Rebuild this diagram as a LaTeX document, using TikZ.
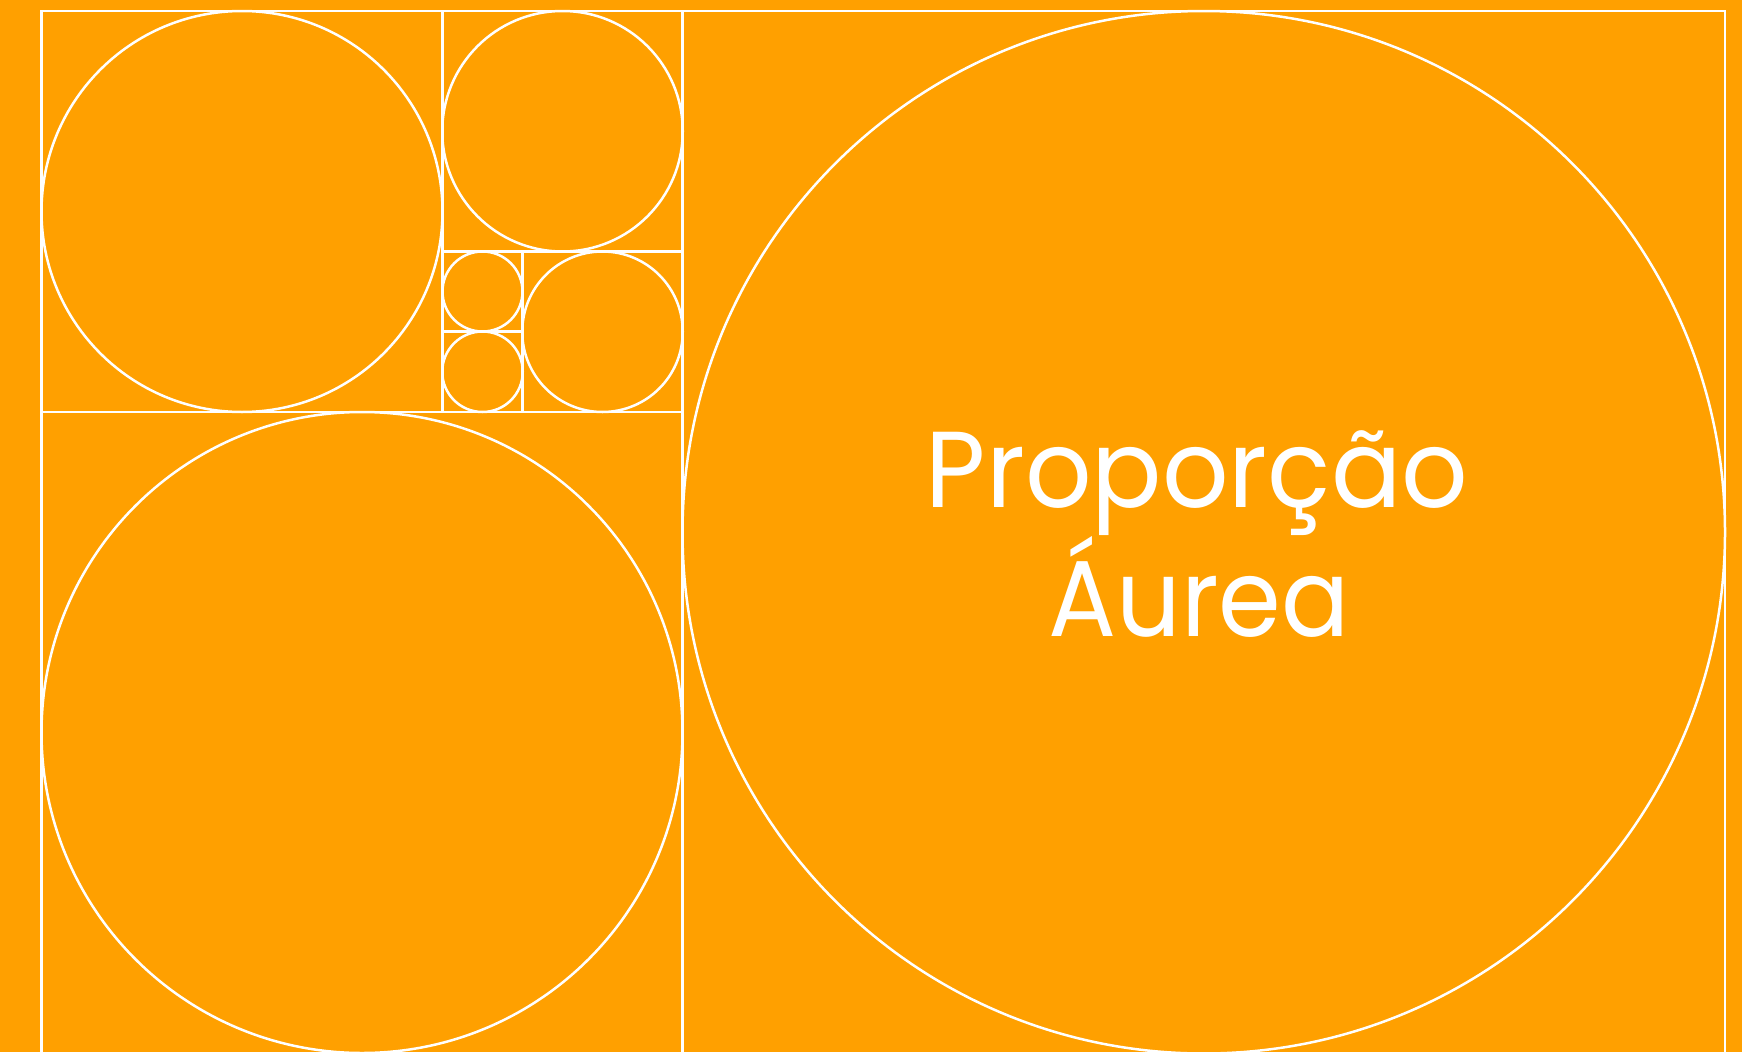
\documentclass[tikz,border=0pt]{standalone}
\usepackage{fontspec}
\newfontfamily\popfont{Poppins}
\definecolor{bgorange}{RGB}{255,160,0}
\begin{document}
\begin{tikzpicture}[x=1pt,y=-1pt,
  gline/.style={draw=white,line width=2.5pt},
  titletext/.style={text=white,inner sep=0pt,font=\popfont\fontsize{108}{108}\selectfont}]
\useasboundingbox (0,0) rectangle (1742,1052);
\fill[bgorange] (0,0) rectangle (1742,1052);
\begin{scope}
\clip (0,0) rectangle (1742,1052);
% frame lines
\draw[gline] (41.5,1060) -- (41.5,11) -- (1725,11) -- (1725,1060);
\draw[gline] (442.5,11) -- (442.5,412);
\draw[gline] (682.5,11) -- (682.5,1060);
\draw[gline] (41.5,412) -- (682.5,412);
\draw[gline] (442.5,251.5) -- (682.5,251.5);
\draw[gline] (522.5,251.5) -- (522.5,412);
\draw[gline] (442.5,331.5) -- (522.5,331.5);
% circles
\draw[gline] (242,211.5) circle[radius=200.5pt];
\draw[gline] (562.5,131.25) circle[radius=120.25pt];
\draw[gline] (482.5,291.5) circle[radius=40pt];
\draw[gline] (482.5,371.75) circle[radius=40.25pt];
\draw[gline] (602.5,331.75) circle[radius=80.25pt];
\draw[gline] (362,732.5) circle[radius=320.5pt];
\draw[gline] (1203.75,532.25) circle[radius=521.25pt];
\end{scope}
\node[titletext,anchor=base] (line1) at (1197,507.7) {\scalebox{0.965}[1]{Proporção}};
\node[titletext,anchor=base] (line2) at (1199,636) {\scalebox{0.935}[1]{Áurea}};
\end{tikzpicture}
\end{document}
